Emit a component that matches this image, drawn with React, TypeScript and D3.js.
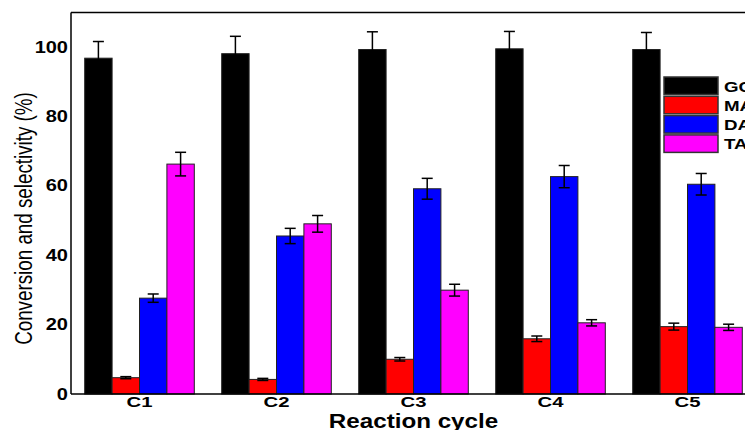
import React, { useEffect } from "react";
import * as d3 from "d3";

// reaction cycles
const cycles = ["C1", "C2", "C3", "C4", "C5"];
const seriesNames = ["GO", "MA", "DA", "TA"];
const seriesColors = ["#000000", "#ff0000", "#0000ff", "#ff00ff"];

// values (%) and error bars
const goValues = [96.7, 98.0, 99.2, 99.4, 99.2];
const goErr = [4.8, 5.0, 5.1, 5.0, 4.9];
const maValues = [4.7, 4.2, 10.0, 15.9, 19.4];
const maErr = [0.3, 0.3, 0.5, 0.8, 1.0];
const daValues = [27.6, 45.5, 59.1, 62.6, 60.4];
const daErr = [1.2, 2.2, 3.0, 3.2, 3.1];
const taValues = [66.2, 49.0, 29.9, 20.5, 19.2];
const taErr = [3.4, 2.4, 1.7, 0.9, 0.9];

const yTicks = [0, 20, 40, 60, 80, 100];

const W = 745;
const H = 430;
const left = 71;
const bottom = 394;
const top = 12;
const sx = 1.25; // the original is stretched sideways

const font = "'Liberation Sans', Arial, sans-serif";

export default function App() {
  useEffect(() => {
    document.body.style.margin = "0";
  }, []);

  const values = [goValues, maValues, daValues, taValues];
  const errors = [goErr, maErr, daErr, taErr];

  const x = d3.scaleBand().domain(cycles).range([left, 756]).paddingInner(0.2).paddingOuter(0.1);
  const xs = d3.scaleBand().domain(seriesNames).range([0, x.bandwidth()]);
  const y = d3.scaleLinear().domain([0, 110]).range([bottom, top]);

  const bars = [];
  const errs = [];
  cycles.forEach((c, i) => {
    seriesNames.forEach((s, j) => {
      const v = values[j][i];
      const e = errors[j][i];
      const bx = x(c)! + xs(s)!;
      bars.push(
        <rect key={`b-${c}-${s}`} x={bx} y={y(v)} width={xs.bandwidth()} height={y(0) - y(v)}
          fill={seriesColors[j]} stroke="#222" strokeWidth={1} />
      );
      const cx = bx + xs.bandwidth() / 2;
      errs.push(
        <g key={`e-${c}-${s}`} stroke="#000" strokeWidth={1.5}>
          <line x1={cx} x2={cx} y1={y(v - e)} y2={y(v + e)} />
          <line x1={cx - 5.5} x2={cx + 5.5} y1={y(v + e)} y2={y(v + e)} />
          <line x1={cx - 5.5} x2={cx + 5.5} y1={y(v - e)} y2={y(v - e)} />
        </g>
      );
    });
  });

  return (
    <svg width={W} height={H} style={{ display: "block" }} fontFamily={font}>
      <rect width={W} height={H} fill="#fff" />
      {bars}
      {errs}

      {/* frame */}
      <g stroke="#000" strokeWidth={1.5} fill="none">
        <line x1={left} x2={left} y1={top + 0.5} y2={bottom} />
        <line x1={left} x2={W} y1={top + 0.5} y2={top + 0.5} />
        <line x1={left} x2={W} y1={bottom} y2={bottom} />
      </g>

      {/* y tick labels */}
      {yTicks.map((t) => (
        <text key={t} transform={`translate(68,${y(t) + 5.8}) scale(${sx},1)`} textAnchor="end"
          fontSize={16} fontWeight="bold" fill="#000">
          {t}
        </text>
      ))}

      {/* x tick labels */}
      {cycles.map((c) => (
        <text key={c} transform={`translate(${x(c)! + x.bandwidth() / 2},407) scale(1.45,1)`}
          textAnchor="middle" fontSize={14} fontWeight="bold" fill="#000">
          {c}
        </text>
      ))}

      <text transform={`translate(413.5,427.5) scale(1.18,1)`} textAnchor="middle" fontSize={20.5}
        fontWeight="bold" fill="#000">
        Reaction cycle
      </text>

      <text transform={`translate(32,218.5) scale(${sx},1) rotate(-90)`} textAnchor="middle"
        fontSize={18.8} fill="#000">
        Conversion and selectivity (%)
      </text>

      {/* legend */}
      {seriesNames.map((s, j) => (
        <g key={s} transform={`translate(664,${77 + j * 19.3})`}>
          <rect width={54} height={17.5} fill={seriesColors[j]} stroke="#333" strokeWidth={1.5} />
          <text transform={`translate(60,14.5) scale(${sx},1)`} fontSize={15} fontWeight="bold" fill="#000">
            {s}
          </text>
        </g>
      ))}
    </svg>
  );
}
